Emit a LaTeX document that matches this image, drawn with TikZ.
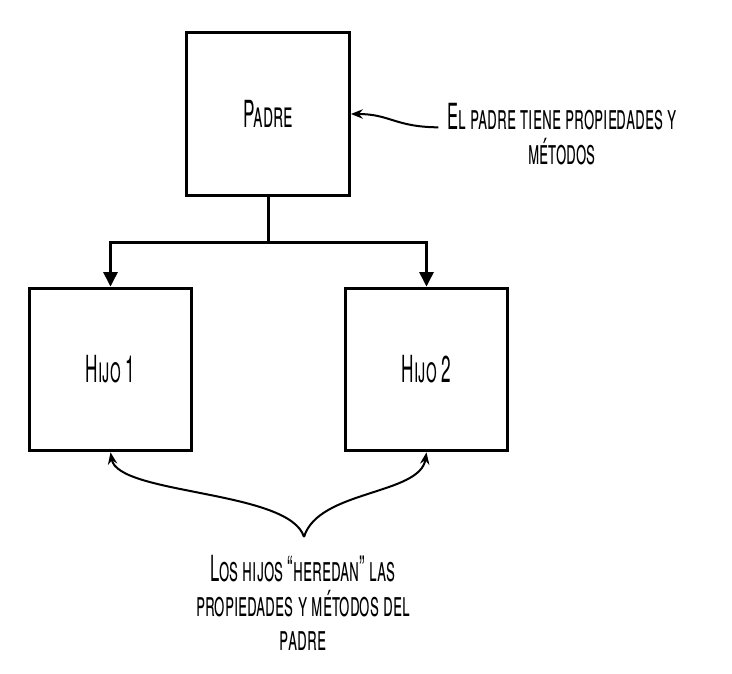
\documentclass[tikz,border=0pt]{standalone}
\usepackage{fontspec}
\setmainfont{TeX Gyre Heros}[FakeStretch=0.46]
\usetikzlibrary{arrows.meta,positioning}

\begin{document}
\begin{tikzpicture}[x=0.75pt, y=-0.75pt,
    caja/.style={draw, line width=2.25pt, minimum width=122pt, minimum height=122pt,
      font=\fontsize{28}{28}\selectfont\scshape},
    texto/.style={align=center, font=\fontsize{27}{26}\selectfont\scshape},
    flecha/.style={line width=2.25pt, -{Triangle[width=10.5pt,length=11pt]}},
    nota/.style={line width=1.5pt, -{Stealth[length=9pt,width=7pt,inset=3pt]}}]
  \useasboundingbox (0,0) rectangle (732,674);

  % cajas
  \node[caja] (padre) at (268,114) {Padre};
  \node[caja] (hijo1) at (110.5,369.5) {Hijo 1};
  \node[caja] (hijo2) at (426.5,369.5) {Hijo 2};

  % herencia
  \coordinate (rama) at (268,242);
  \draw[line width=2.25pt] (padre.south) -- (rama);
  \draw[flecha] (rama) -| (hijo1.north);
  \draw[flecha] (rama) -| (hijo2.north);

  % notas
  \node[texto] (nota1) at (562,134) {El padre tiene propiedades y\\métodos};
  \draw[nota] ([xshift=-3pt,yshift=5pt]nota1.west) .. controls (395,127) and (390,114) .. (padre.east);

  \node[texto] (nota2) at (303,603) {Los hijos “heredan” las\\propiedades y métodos del\\padre};
  \coordinate (punta) at (304,537);
  \draw[nota] (punta) .. controls (290,490) and (118,495) .. (hijo1.south);
  \draw[nota] (punta) .. controls (318,490) and (420,495) .. (hijo2.south);
\end{tikzpicture}
\end{document}
